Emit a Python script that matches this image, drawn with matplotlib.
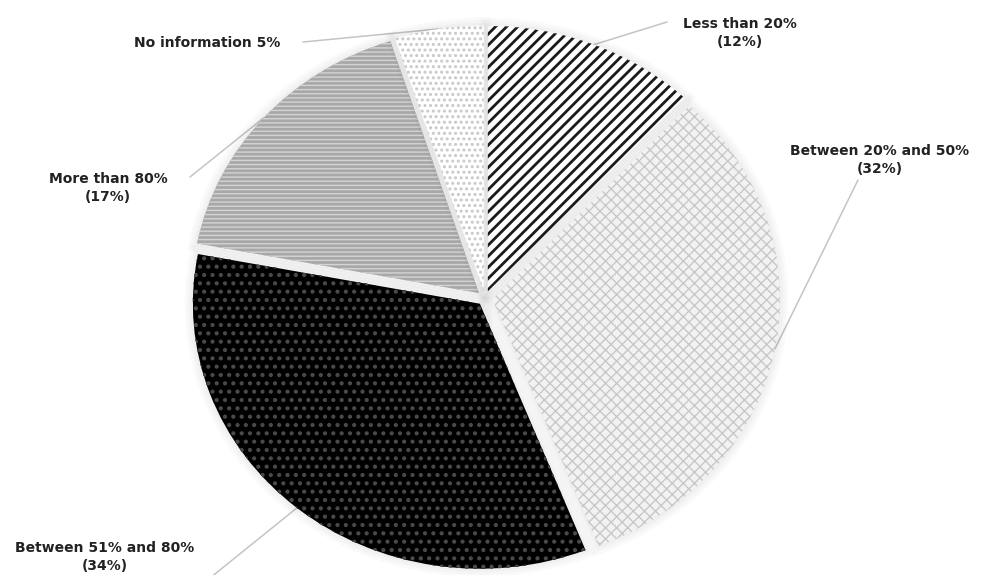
import matplotlib
matplotlib.use('Agg')
import matplotlib.pyplot as plt
import matplotlib.patheffects as pe
import numpy as np

plt.rcParams['font.family'] = ['DejaVu Sans']

labels = ['Less than 20%\n(12%)', 'Between 20% and 50%\n(32%)', 'Between 51% and 80%\n(34%)',
          'More than 80%\n(17%)', 'No information 5%']
shares = [12, 32, 34, 17, 5]

# fill / hatch styling per slice
faces = ['white', '#f2f2f2', 'black', '#a8a8a8', 'white']
hatch_cols = ['#1a1a1a', '#c8c8c8', '#4a4a4a', '#d4d4d4', '#c8c8c8']
hatches = ['///', 'xxx', '..', '----', '...']
hatch_lw = [2.0, 1.0, 1.8, 1.0, 1.4]

# label placement (pixels of the 1005x575 canvas) and where leader lines end
text_px = [(740, 33), (880, 160), (105, 557), (108, 188), (207, 43)]
lead_px = [(667, 22), (858, 180), (205, 582), (190, 177), (303, 42)]

W, H = 1005, 575
cx, cy, rx, ry = 485, 298, 287, 265

fig = plt.figure(figsize=(W / 100, H / 100), dpi=100)
ax = fig.add_axes([0, 0, 1, 1])

explode = [0.028] * len(shares)
wedges, _ = ax.pie(shares, startangle=90, counterclock=False, explode=explode,
                   wedgeprops=dict(linewidth=0))

shadow = [pe.Stroke(linewidth=w, foreground='#000000', alpha=0.02) for w in (12, 8, 4)]
for w, fc, hc, h, lw in zip(wedges, faces, hatch_cols, hatches, hatch_lw):
    w.set_facecolor(fc)
    w.set_edgecolor(hc)
    w.set_linewidth(0)
    w.set_hatch(h)
    if hasattr(w, 'set_hatch_linewidth'):
        w.set_hatch_linewidth(lw)
    w.set_path_effects(shadow + [pe.Normal()])

ax.set_aspect('auto')
ax.set_xlim(-cx / rx, (W - cx) / rx)
ax.set_ylim(-(H - cy) / ry, cy / ry)
ax.axis('off')


def px_to_data(px, py):
    return (px - cx) / rx, (cy - py) / ry


# leaders from the rim at each slice's mid angle out to the label
for w, (lx, ly), (tx, ty), lab, ex in zip(wedges, lead_px, text_px, labels, explode):
    mid = np.deg2rad((w.theta1 + w.theta2) / 2)
    ax0 = np.cos(mid) * (1 + ex)
    ay0 = np.sin(mid) * (1 + ex)
    ex1, ey1 = px_to_data(lx, ly)
    ax.plot([ax0, ex1], [ay0, ey1], color='#c4c4c4', lw=1.1, solid_capstyle='round',
            clip_on=False, zorder=0)
    fig.text(tx / W, 1 - ty / H, lab, ha='center', va='center', fontsize=10,
             fontweight='bold', color='#222222', linespacing=1.35)

fig.savefig('out.png', dpi=100)
